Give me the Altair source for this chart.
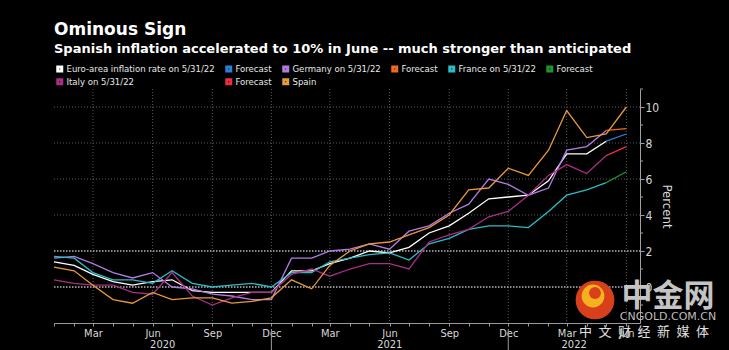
import altair as alt
import pandas as pd

# ---------------- data ----------------
months = [d.strftime("%Y-%m-%dT00:00:00") for d in pd.date_range("2020-01-01", "2022-06-01", freq="MS")]

euro = [1.4, 1.2, 0.7, 0.3, 0.1, 0.3, 0.4, -0.2, -0.3, -0.3, -0.3, -0.3,
        0.9, 0.9, 1.3, 1.6, 2.0, 1.9, 2.2, 3.0, 3.4, 4.1, 4.9, 5.0,
        5.1, 5.9, 7.4, 7.4, 8.1]
germany = [1.6, 1.7, 1.3, 0.8, 0.5, 0.8, 0.0, -0.1, -0.4, -0.5, -0.7, -0.7,
           1.6, 1.6, 2.0, 2.1, 2.4, 2.1, 3.1, 3.4, 4.1, 4.6, 6.0, 5.7,
           5.1, 5.5, 7.6, 7.8, 8.7]
france = [1.7, 1.6, 0.8, 0.4, 0.4, 0.2, 0.9, 0.2, 0.0, 0.1, 0.2, 0.0,
          0.8, 0.8, 1.4, 1.6, 1.8, 1.9, 1.5, 2.4, 2.7, 3.2, 3.4, 3.4,
          3.3, 4.2, 5.1, 5.4, 5.8]
italy = [0.4, 0.2, 0.1, 0.1, -0.3, -0.4, 0.8, -0.5, -1.0, -0.6, -0.3, -0.3,
         0.7, 1.0, 0.6, 1.0, 1.3, 1.3, 1.0, 2.5, 2.9, 3.2, 3.9, 4.2,
         5.1, 6.2, 6.8, 6.3, 7.3]
spain = [1.1, 0.9, 0.1, -0.7, -0.9, -0.3, -0.7, -0.6, -0.6, -0.9, -0.8, -0.6,
         0.4, -0.1, 1.2, 2.0, 2.4, 2.5, 2.9, 3.3, 4.0, 5.4, 5.5, 6.6,
         6.2, 7.6, 9.8, 8.3, 8.5, 10.0]

# June 2022 forecasts (lines drawn from the May reading)
fc_euro, fc_germany, fc_france, fc_italy = 8.5, 8.8, 6.4, 7.8

series_names = ["Euro-area inflation rate on 5/31/22", "Forecast (EA)",
                "Germany on 5/31/22", "Forecast (DE)",
                "France on 5/31/22", "Forecast (FR)",
                "Italy on 5/31/22", "Forecast (IT)", "Spain"]
series_colors = ["#ffffff", "#2f7ed8", "#b47ae4", "#f26b1d", "#2bbcc6",
                 "#22922f", "#a82e86", "#e8303f", "#e8983e"]

y_values = [0, 2, 4, 6, 8, 10]
y_minor = [-1, 1, 3, 5, 7, 9, 11]
quarter_ticks = ["2020-03-01T00:00:00", "2020-06-01T00:00:00", "2020-09-01T00:00:00",
                 "2020-12-01T00:00:00", "2021-03-01T00:00:00", "2021-06-01T00:00:00",
                 "2021-09-01T00:00:00", "2021-12-01T00:00:00", "2022-03-01T00:00:00",
                 "2022-06-01T00:00:00"]
x_start, x_end = "2020-01-01T00:00:00", "2022-06-22T00:00:00"
year_names = ["2020", "2021", "2022"]
year_breaks = [x_start, "2020-12-01T00:00:00", "2021-12-01T00:00:00", x_end]

# ---------------- tables ----------------
rows = []
def add(name, dates, vals):
    for d, v in zip(dates, vals):
        rows.append({"date": d, "v": v, "series": name})

n = len(euro)
add(series_names[0], months[:n], euro)
add(series_names[1], months[n - 1:n + 1], [euro[-1], fc_euro])
add(series_names[2], months[:n], germany)
add(series_names[3], months[n - 1:n + 1], [germany[-1], fc_germany])
add(series_names[4], months[:n], france)
add(series_names[5], months[n - 1:n + 1], [france[-1], fc_france])
add(series_names[6], months[:n], italy)
add(series_names[7], months[n - 1:n + 1], [italy[-1], fc_italy])
add(series_names[8], months, spain)
df = pd.DataFrame(rows)

bt = pd.to_datetime(year_breaks)
year_df = pd.DataFrame({
    "label": year_names,
    "date": [(bt[i] + (bt[i + 1] - bt[i]) / 2).strftime("%Y-%m-%dT%H:%M:%S") for i in range(3)],
})
sep_df = pd.DataFrame({"date": year_breaks[1:3]})

W, H = 586, 234
FONT = "DejaVu Sans Condensed, Roboto, sans-serif"

x_scale = alt.Scale(domain=[x_start, x_end])
y_scale = alt.Scale(domain=[-2, 11], nice=False)

x_axis = alt.Axis(
    title=None, grid=False,
    values=months,
    labelExpr="indexof([2,5,8,11], month(datum.value)) >= 0 ? timeFormat(datum.value, '%b') : ''",
    tickSize=3, tickColor="#9a9a9a", domainColor="#9a9a9a",
    labelColor="#d8d8d8", labelFont=FONT, labelFontSize=11, labelPadding=1,
    labelOverlap=False, labelFlush=False,
)
y_axis = alt.Axis(
    orient="right", values=y_values, grid=False,
    tickSize=4, tickColor="#a0a0a0", domainColor="#a0a0a0",
    labelColor="#d8d8d8", labelFont=FONT, labelFontSize=12, labelPadding=1,
    title="Percent", titleAngle=90, titleColor="#d8d8d8", titleFont=FONT,
    titleFontSize=13, titleFontWeight="normal", titlePadding=1,
)

X = alt.X("date:T", scale=x_scale, axis=x_axis)
Y = alt.Y("v:Q", scale=y_scale, axis=y_axis)

hgrid = alt.Chart(pd.DataFrame({"v": [4, 6, 8, 10]})).mark_rule(
    color="#5a5a5a", strokeDash=[1, 2], strokeWidth=1
).encode(y=Y, x=alt.value(0), x2=alt.value(W))

hgrid_bright = alt.Chart(pd.DataFrame({"v": [0, 2]})).mark_rule(
    color="#b8b8b8", strokeDash=[1.5, 1.5], strokeWidth=1.4
).encode(y=Y, x=alt.value(0), x2=alt.value(W))

vgrid = alt.Chart(pd.DataFrame({"date": quarter_ticks})).mark_rule(
    color="#5a5a5a", strokeDash=[1, 2], strokeWidth=1
).encode(x=X, y=alt.value(0), y2=alt.value(H))

minor_y = alt.Chart(pd.DataFrame({"v": y_minor})).mark_rule(
    color="#a0a0a0", strokeWidth=1
).encode(y=Y, x=alt.value(W), x2=alt.value(W + 3))

lines = alt.Chart(df).mark_line(strokeWidth=1.3).encode(
    x=X, y=Y,
    color=alt.Color(
        "series:N",
        scale=alt.Scale(domain=series_names, range=series_colors),
        legend=alt.Legend(
            title=None, orient="none", legendX=1, legendY=-25, columns=6,
            direction="horizontal",
            symbolType="square", symbolSize=16, symbolStrokeWidth=3,
            labelColor="#e8e8e8", labelFont=FONT, labelFontSize=9.5,
            labelExpr="indexof(datum.label, 'Forecast') == 0 ? 'Forecast' : datum.label",
            columnPadding=5, rowPadding=-5, labelOffset=2, padding=0,
        ),
    ),
)

years = alt.Chart(year_df).mark_text(
    color="#d8d8d8", font=FONT, fontSize=11, baseline="alphabetic"
).encode(x=X, y=alt.value(H + 25), text="label:N")

seps = alt.Chart(sep_df).mark_rule(color="#9a9a9a", strokeWidth=1).encode(
    x=X, y=alt.value(H + 6), y2=alt.value(H + 30)
)

# watermark overlay
wm = pd.DataFrame({"t": [0]})
logo_outer = alt.Chart(wm).mark_point(filled=True, shape="circle", size=1500, color="#d8401c", opacity=1).encode(
    x=alt.value(541), y=alt.value(211))
logo_inner = alt.Chart(wm).mark_point(filled=True, shape="circle", size=520, color="#f6b21e", opacity=1).encode(
    x=alt.value(539), y=alt.value(207))
logo_core = alt.Chart(wm).mark_point(filled=True, shape="circle", size=140, color="#d8401c", opacity=1).encode(
    x=alt.value(541), y=alt.value(204))
wm1 = alt.Chart(wm).mark_text(text="中金网", font="Noto Sans CJK SC", fontSize=31, fontWeight="bold",
                              color="#c4c4c4", baseline="middle").encode(x=alt.value(614), y=alt.value(208))
wm2 = alt.Chart(wm).mark_text(text="CNGOLD.COM.CN", font="DejaVu Sans", fontSize=11,
                              color="#bdbdbd", baseline="middle").encode(x=alt.value(614), y=alt.value(228))
wm3 = alt.Chart(wm).mark_text(text="中\u2002文\u2002财\u2002经\u2002新\u2002媒\u2002体", font="Noto Sans CJK SC",
                              fontSize=13, color="#e0e0e0", baseline="middle").encode(x=alt.value(590), y=alt.value(243))

chart = alt.layer(
    hgrid, vgrid, hgrid_bright, minor_y, lines, years, seps,
    logo_outer, logo_inner, logo_core, wm1, wm2, wm3,
).properties(
    width=W, height=H,
    title=alt.TitleParams(
        "Ominous Sign",
        subtitle="Spanish inflation accelerated to 10% in June -- much stronger than anticipated",
        anchor="start", frame="group", color="#ffffff", font="DejaVu Sans", fontSize=17, fontWeight="bold",
        subtitleColor="#ffffff", subtitleFont="DejaVu Sans", subtitleFontSize=13,
        subtitleFontWeight="bold", subtitlePadding=4, offset=7,
    ),
    autosize=alt.AutoSizeParams(type="none"),
    padding={"left": 54, "top": 89, "right": 89, "bottom": 27},
    background="#000000",
).configure_view(stroke=None)

chart.save("out.html", embed_options={"renderer": "svg", "actions": False})
